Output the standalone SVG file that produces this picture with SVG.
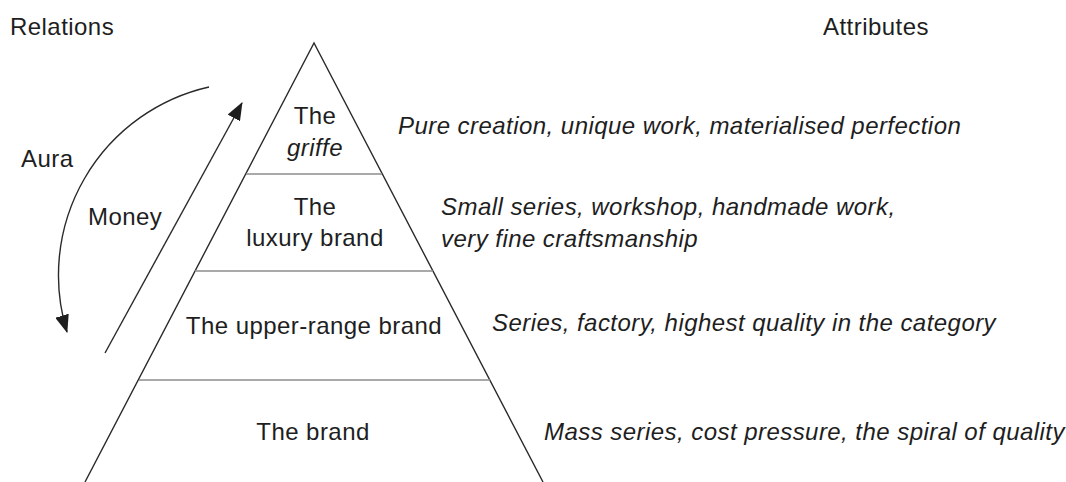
<svg xmlns="http://www.w3.org/2000/svg" width="1066" height="482" viewBox="0 0 1066 482">
  <style>
    text { font-family: "Liberation Sans", Arial, Helvetica, sans-serif; font-size: 24px; letter-spacing: 0.45px; fill: #1e1e1e; }
    .it { font-style: italic; }
    .mid { text-anchor: middle; }
    .edge { stroke: #2a2a2a; stroke-width: 1.4; fill: none; }
    .tier { stroke: #8c8c8c; stroke-width: 1.5; fill: none; }
    .flow { stroke: #2a2a2a; stroke-width: 1.4; fill: none; marker-end: url(#head); }
  </style>
  <defs>
    <marker id="head" viewBox="0 0 18 14" refX="17" refY="7" markerWidth="18" markerHeight="14" markerUnits="userSpaceOnUse" orient="auto">
      <path d="M0,0 L18,7 L0,14 z" fill="#1e1e1e"/>
    </marker>
  </defs>
  <rect width="1066" height="482" fill="#ffffff"/>

  <!-- column headings -->
  <text x="10" y="35">Relations</text>
  <text x="823" y="35">Attributes</text>

  <!-- pyramid outline and tier dividers -->
  <g id="pyramid">
    <path class="edge" d="M85,482 L314,43 L543,482"/>
    <line class="tier" x1="246" y1="174" x2="382" y2="174"/>
    <line class="tier" x1="195" y1="271" x2="433" y2="271"/>
    <line class="tier" x1="139" y1="380" x2="490" y2="380"/>
  </g>

  <!-- relation arrows -->
  <g id="connectors">
    <path class="flow" d="M209,87 A193,193 0 0,0 67,332"/>
    <line class="flow" x1="105" y1="353" x2="242" y2="103"/>
  </g>
  <g id="aura-label"><text x="21" y="167">Aura</text></g>
  <g id="money-label"><text x="88" y="225">Money</text></g>

  <!-- tiers -->
  <g id="griffe">
    <text class="mid" x="315" y="124">The</text>
    <text class="mid it" x="315" y="156">griffe</text>
  </g>
  <g id="luxury-brand">
    <text class="mid" x="315" y="215">The</text>
    <text class="mid" x="315" y="246">luxury brand</text>
  </g>
  <g id="upper-range-brand">
    <text class="mid" x="314" y="334">The upper-range brand</text>
  </g>
  <g id="brand">
    <text class="mid" x="313" y="440">The brand</text>
  </g>

  <!-- attributes -->
  <g id="attr-griffe"><text class="it" x="398" y="134">Pure creation, unique work, materialised perfection</text></g>
  <g id="attr-luxury">
    <text class="it" x="441" y="215">Small series, workshop, handmade work,</text>
    <text class="it" x="441" y="247">very fine craftsmanship</text>
  </g>
  <g id="attr-upper"><text class="it" x="492" y="331">Series, factory, highest quality in the category</text></g>
  <g id="attr-brand"><text class="it" x="544" y="440">Mass series, cost pressure, the spiral of quality</text></g>
</svg>
